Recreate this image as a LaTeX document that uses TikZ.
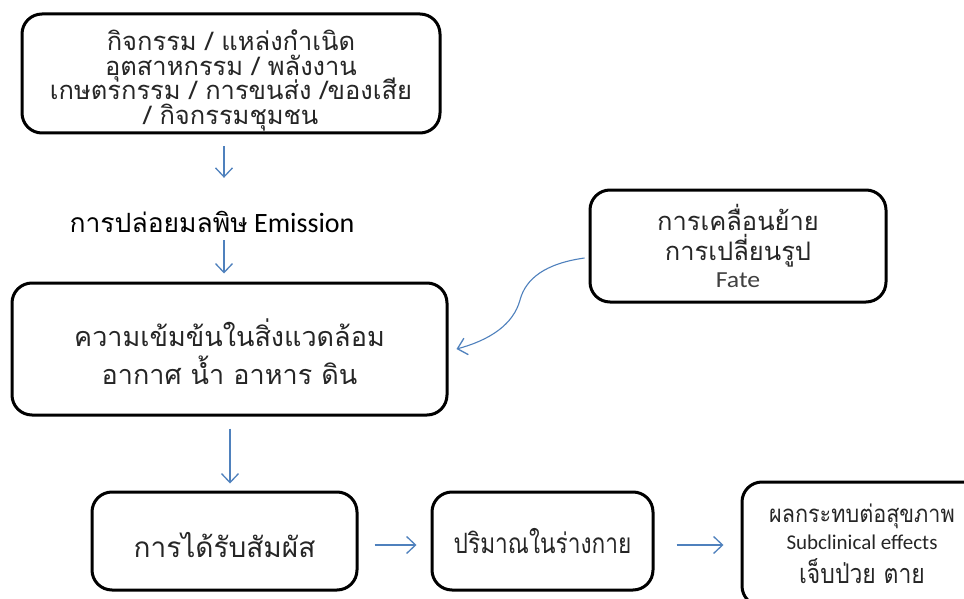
\documentclass[tikz,border=0pt]{standalone}
\usepackage{fontspec}
\usepackage{graphicx}
\setmainfont{Carlito}
\newfontfamily\thai[Script=Thai]{Loma}
\usetikzlibrary{arrows.meta}
\definecolor{arrblue}{RGB}{79,129,189}
\tikzset{
  box/.style={draw=black, line width=3pt, rounded corners=20pt, fill=white,
    align=center, inner sep=0pt, text=black!85},
  txt/.style={align=center, inner sep=0pt, text=black!85},
  arr/.style={draw=arrblue, line width=1.5pt, -{Straight Barb[length=9pt,width=17pt,line width=1.3pt]}},
}
\newcommand{\sx}[2]{\scalebox{#1}[1]{#2}}
\newcommand{\tightlines}{\lineskiplimit=-100pt\lineskip=0pt}
\begin{document}
\begin{tikzpicture}[x=1pt,y=-1pt]
\useasboundingbox (0,0) rectangle (964,599);
\clip (0,0) rectangle (964,599);
\fill[white] (0,0) rectangle (964,599);

\node[box, minimum width=418pt, minimum height=119pt] (src) at (231,73.5) {};
\node[txt, font=\thai\fontsize{25.5}{24.5}\selectfont\tightlines]
  (srct) at ([yshift=-7pt]src.center) {กิจกรรม / แหล่งกำเนิด\\อุตสาหกรรม / พลังงาน\\เกษตรกรรม / การขนส่ง /ของเสีย\\/ กิจกรรมชุมชน};

\node[minimum height=36pt, inner sep=0pt, font=\fontsize{28}{30}\selectfont, text=black]
  (emis) at (212,222) {{\thai\fontsize{26.5}{30}\selectfont การปล่อยมลพิษ} Emission};

\node[box, minimum width=435pt, minimum height=132pt] (env) at (229.5,349) {};
\node[txt, font=\thai\fontsize{27}{38}\selectfont\tightlines]
  (envt) at ([yshift=-3pt]env.center) {ความเข้มข้นในสิ่งแวดล้อม\\อากาศ น้ำ อาหาร ดิน};

\node[box, minimum width=296pt, minimum height=112pt, align=center, font=\fontsize{25.5}{30}\selectfont]
  (fate) at (738,246) {{\thai การเคลื่อนย้าย}\\{\thai การเปลี่ยนรูป}\\[-3pt]{\fontsize{23}{26}\selectfont\color{black!75}\sx{1.12}{Fate}}};

\node[box, minimum width=265pt, minimum height=98pt] (exp) at (224.5,541) {};
\node[txt, font=\thai\fontsize{28}{30}\selectfont]
  (expt) at ([yshift=-4pt]exp.center) {การได้รับสัมผัส};

\node[box, minimum width=221pt, minimum height=98pt, font=\thai\fontsize{28}{30}\selectfont]
  (dose) at (542.5,541) {\sx{0.81}{ปริมาณในร่างกาย}};

\node[box, minimum width=240pt, minimum height=124pt, align=center, font=\fontsize{24}{26}\selectfont]
  (eff) at (862,544) {{\thai\sx{0.9}{ผลกระทบต่อสุขภาพ}}\\[1pt]{\fontsize{21}{26}\selectfont Subclinical effects}\\[8pt]{\thai\fontsize{27}{28}\selectfont\sx{0.85}{เจ็บป่วย ตาย}}};

\coordinate (xa) at (224,0);
\coordinate (xb) at (230,0);
\coordinate (yh) at (0,545);

\draw[arr, shorten <=12pt, shorten >=26pt] (src.south -| xa) -- (emis.north -| xa);
\draw[arr, shorten >=8pt] (emis.south -| xa) -- (env.north -| xa);
\draw[arr, shorten <=12pt, shorten >=7pt] (env.south -| xb) -- (exp.north -| xb);
\draw[arr, shorten <=16pt, shorten >=14pt] (exp.east |- yh) -- (dose.west |- yh);
\draw[arr, shorten <=22pt, shorten >=17pt] (dose.east |- yh) -- (eff.west |- yh);

\coordinate (fs) at ([xshift=-4pt,yshift=-12pt]fate.west);
\coordinate (fm) at (520,300);
\coordinate (fe) at ([xshift=8pt]env.east);
\draw[arr, line width=1.1pt] (fs) .. controls +(188:40pt) and +(75:22pt) .. (fm)
  .. controls +(255:25pt) and +(15:35pt) .. (fe);
\end{tikzpicture}
\end{document}
